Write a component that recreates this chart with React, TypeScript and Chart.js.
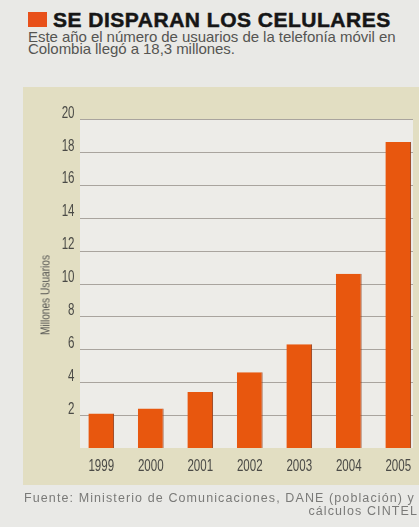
import React, { useEffect, useRef } from 'react';
import { Chart, registerables } from 'chart.js';

Chart.register(...registerables);

// ---- data ----
const years = ['1999', '2000', '2001', '2002', '2003', '2004', '2005'];
const usuarios = [2.1, 2.4, 3.4, 4.6, 6.3, 10.6, 18.6];
const yTickValues = [2, 4, 6, 8, 10, 12, 14, 16, 18, 20];
const titleText = 'SE DISPARAN LOS CELULARES';
const subtitleLines = [
  'Este año el número de usuarios de la telefonía móvil en',
  'Colombia llegó a 18,3 millones.',
];
const yTitleText = 'Millones Usuarios';
const sourceLines = [
  'Fuente: Ministerio de Comunicaciones, DANE (población) y',
  'cálculos CINTEL',
];

const SANS = "'Liberation Sans', Arial, sans-serif";
const LABEL_COLOR = '#4a4a46';

const PANEL_LEFT = 80;
const PANEL_RIGHT = 413;

const panelPlugin = {
  id: 'panel',
  beforeDatasetsDraw(chart: any) {
    const { ctx } = chart;
    const y = chart.scales.y;
    const top = y.getPixelForValue(yTickValues[yTickValues.length - 1]);
    const bottom = y.getPixelForValue(0);
    ctx.save();
    ctx.fillStyle = '#edece8';
    ctx.fillRect(PANEL_LEFT, top, PANEL_RIGHT - PANEL_LEFT, bottom - top);
    ctx.strokeStyle = '#a9a49e';
    ctx.lineWidth = 1.2;
    for (const v of yTickValues) {
      const py = Math.round(y.getPixelForValue(v)) + 0.5;
      ctx.beginPath();
      ctx.moveTo(PANEL_LEFT, py);
      ctx.lineTo(PANEL_RIGHT, py);
      ctx.stroke();
    }
    ctx.restore();
  },
};

// condensed tick labels, placed with the chart's own scales
const condensedTicksPlugin = {
  id: 'condensedTicks',
  afterDraw(chart: any) {
    const { ctx } = chart;
    const x = chart.scales.x;
    const y = chart.scales.y;
    ctx.save();
    ctx.fillStyle = LABEL_COLOR;
    ctx.font = `17px ${SANS}`;
    ctx.textBaseline = 'middle';
    ctx.textAlign = 'center';
    x.ticks.forEach((t: any, i: number) => {
      const px = x.getPixelForTick(i);
      const label = String(x.getLabelForValue(t.value));
      ctx.save();
      ctx.translate(px, x.top + 18);
      ctx.scale(0.68, 1);
      ctx.fillText(label, 0, 0);
      ctx.restore();
    });
    ctx.textAlign = 'right';
    y.ticks.forEach((t: any) => {
      const py = y.getPixelForValue(t.value) - 6;
      ctx.save();
      ctx.translate(y.right - 2, py);
      ctx.scale(0.68, 1);
      ctx.fillText(String(t.value), 0, 0);
      ctx.restore();
    });
    ctx.restore();
  },
};

function BarChart() {
  const ref = useRef<HTMLCanvasElement | null>(null);
  useEffect(() => {
    if (!ref.current) return;
    const chart = new Chart(ref.current, {
      type: 'bar',
      data: {
        labels: years,
        datasets: [
          {
            data: usuarios,
            backgroundColor: '#e8570e',
            borderColor: '#8c3a18',
            borderWidth: { top: 0, left: 0, bottom: 0, right: 1 },
            borderSkipped: false,
            categoryPercentage: 1,
            barPercentage: 0.52,
          },
        ],
      },
      options: {
        responsive: false,
        devicePixelRatio: 1,
        animation: false,
        layout: { padding: { left: 0, right: 7, top: 119, bottom: 0 } },
        plugins: {
          legend: { display: false },
          tooltip: { enabled: false },
          title: { display: false },
        },
        scales: {
          x: {
            type: 'category',
            offset: true,
            grid: { display: false, drawTicks: false },
            border: { display: false },
            ticks: { display: false, autoSkip: false },
            afterFit: (s: any) => {
              s.height = 79;
            },
          },
          y: {
            min: 0,
            max: 20,
            grid: { display: false, drawTicks: false },
            border: { display: false },
            afterBuildTicks: (s: any) => {
              s.ticks = yTickValues.map((v) => ({ value: v }));
            },
            ticks: { display: false },
            afterFit: (s: any) => {
              s.width = 76.5;
            },
          },
        },
      },
      plugins: [panelPlugin, condensedTicksPlugin],
    });
    return () => chart.destroy();
  }, []);
  return (
    <canvas
      ref={ref}
      width={430}
      height={527}
      style={{ position: 'absolute', left: 0, top: 0, width: 430, height: 527 }}
    />
  );
}

export default function App() {
  const footerStyle: React.CSSProperties = {
    position: 'absolute',
    fontSize: 12.5,
    lineHeight: '12px',
    color: '#7a7a78',
    whiteSpace: 'nowrap',
    letterSpacing: '1.1px',
  };
  return (
    <div
      style={{
        position: 'fixed',
        left: 0,
        top: 0,
        width: 419,
        height: 527,
        overflow: 'hidden',
        background: '#e9e9e6',
        fontFamily: SANS,
      }}
    >
      {/* beige chart box */}
      <div
        style={{
          position: 'absolute',
          left: 23,
          top: 87,
          width: 396,
          height: 398,
          background: '#e2dec2',
        }}
      />
      {/* title */}
      <div
        style={{
          position: 'absolute',
          left: 28,
          top: 12,
          width: 19,
          height: 15,
          background: '#e8501a',
        }}
      />
      <div
        style={{
          position: 'absolute',
          left: 53,
          top: 9,
          fontSize: 21,
          lineHeight: '21px',
          fontWeight: 'bold',
          color: '#161616',
          whiteSpace: 'nowrap',
          letterSpacing: '0.5px',
          WebkitTextStroke: '0.5px #161616',
        }}
      >
        {titleText}
      </div>
      <div
        style={{
          position: 'absolute',
          left: 28,
          top: 30.5,
          fontSize: 15,
          lineHeight: '12.5px',
          color: '#555552',
          whiteSpace: 'nowrap',
          letterSpacing: '-0.05px',
        }}
      >
        {subtitleLines.map((l, i) => (
          <div key={i}>{l}</div>
        ))}
      </div>
      <BarChart />
      <div
        style={{
          position: 'absolute',
          left: 45,
          top: 295,
          transform: 'translate(-50%, -50%) rotate(-90deg) scaleX(0.78)',
          fontSize: 13,
          lineHeight: '13px',
          color: '#555552',
          whiteSpace: 'nowrap',
        }}
      >
        {yTitleText}
      </div>
      <div style={{ ...footerStyle, left: 24, top: 492 }}>{sourceLines[0]}</div>
      <div style={{ ...footerStyle, right: 1, top: 505 }}>{sourceLines[1]}</div>
    </div>
  );
}
